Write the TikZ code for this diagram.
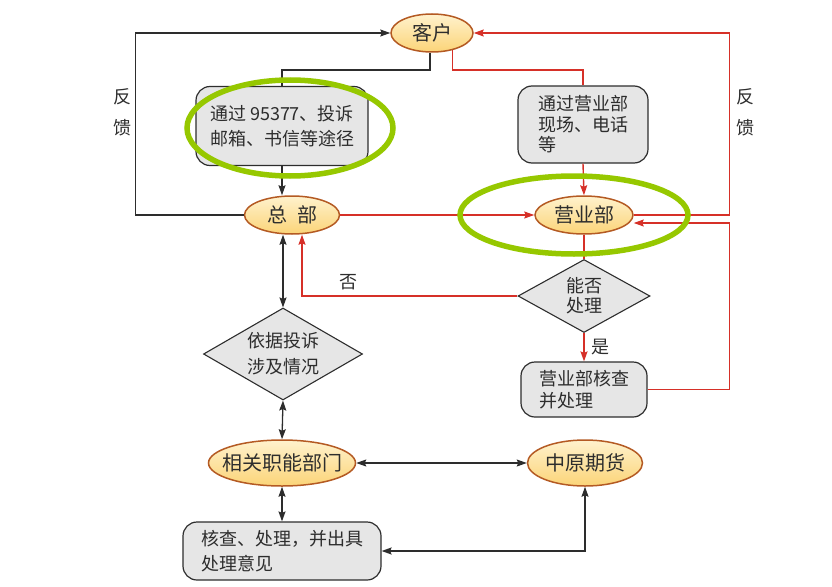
\documentclass[tikz,border=0pt]{standalone}
\usepackage{fontspec}
\setmainfont{Noto Sans CJK SC}
\usetikzlibrary{arrows.meta, shapes.geometric}
\definecolor{CR}{RGB}{214,48,40}
\definecolor{DG}{RGB}{45,45,45}
\definecolor{CO}{RGB}{180,90,35}
\definecolor{OL}{RGB}{255,242,205}
\definecolor{OM}{RGB}{247,172,52}
\definecolor{OB}{RGB}{251,212,120}
\definecolor{LGr}{RGB}{230,230,230}
\definecolor{HG}{RGB}{150,200,0}

\begin{document}
\begin{tikzpicture}[x=1pt, y=-1pt,
  ebox/.style={ellipse, draw=CO, line width=1.5pt, top color=OL, middle color=OM,
               bottom color=OB, minimum width=#1, minimum height=38pt,
               inner xsep=-10pt, inner ysep=0pt, text=DG,
               font=\fontsize{20}{24}\selectfont},
  gbox/.style={draw=DG, fill=LGr, line width=1.2pt, rounded corners=14pt,
               inner sep=0pt, text=DG, align=left},
  dbox/.style={diamond, draw=DG, fill=LGr, line width=1.1pt, aspect=1.7,
               inner sep=0pt, text=DG, align=center},
  lab/.style={text=DG, font=\fontsize{18}{31}\selectfont, align=center},
  ring/.style={draw=HG, line width=5.5pt},
  arr/.style={-{Stealth[length=10pt, width=7pt, inset=1.5pt]}, line width=1.3pt, draw=DG},
  darr/.style={{Stealth[length=10pt, width=7pt, inset=1.5pt]}-{Stealth[length=10pt, width=7pt, inset=1.5pt]},
               line width=1.3pt, draw=DG},
  rarr/.style={-{Stealth[length=10pt, width=7pt, inset=1.5pt]}, line width=1.4pt, draw=CR},
  kline/.style={line width=1.3pt, draw=DG},
  rline/.style={line width=1.4pt, draw=CR}
]
\useasboundingbox (0,0) rectangle (832,586);

% ellipses
\node[ebox=82pt] (kehu) at (432,33) {客户};
\node[ebox=95pt] (zongbu) at (292,215) {总\hspace{0.5em}部};
\node[ebox=98pt] (yyb) at (584,215) {营业部};
\node[ebox=147pt, minimum height=46pt] (xgbm) at (282,463) {相关职能部门};
\node[ebox=115pt, minimum height=46pt] (zyqh) at (585,463) {中原期货};

% boxes
\node[gbox, minimum width=172pt, minimum height=79pt, font=\fontsize{18}{25}\selectfont]
  (tousu) at (282,126) {通过 95377、投诉\\邮箱、书信等途径};
\node[gbox, minimum width=130pt, minimum height=77pt, font=\fontsize{18}{20.5}\selectfont]
  (xianchang) at (583,124.5) {通过营业部\\现场、电话\\等};
\node[gbox, minimum width=126pt, minimum height=55pt, font=\fontsize{18}{22}\selectfont]
  (yybhc) at (584,389.5) {营业部核查\\并处理};
\node[gbox, minimum width=198pt, minimum height=58pt, font=\fontsize{18}{25}\selectfont]
  (hecha) at (282,551) {核查、处理，并出具\\处理意见};

% diamonds
\node[dbox, minimum width=159pt, minimum height=92pt, font=\fontsize{18}{26}\selectfont]
  (yiju) at (283,354) {依据投诉\\涉及情况};
\node[dbox, minimum width=132pt, minimum height=73pt, font=\fontsize{18}{20}\selectfont]
  (nengfou) at (584,296) {能否\\处理};

% labels
\node[lab] (fkl) at (122,112) {反\\馈};
\node[lab] (fkr) at (745,112) {反\\馈};
\node[lab] (fou) at (348,282) {否};
\node[lab] (shi) at (600,347) {是};

% customer channels
\coordinate (split) at (432,70);
\draw[kline] ([xshift=-2pt]kehu.south) -- ([xshift=-2pt]kehu.south |- split) -| (tousu.north);
\draw[rline] (kehu.-40) -- (kehu.-40 |- split) -| (xianchang.north);
\draw[arr] (tousu.south) -- (zongbu.north -| tousu.south);
\draw[rarr] (xianchang.south) -- (yyb.north);

% feedback
\draw[arr] (zongbu.west) -- ++(-108,0) |- (kehu.west);
\draw[rarr] (yyb.east) -- ++(96,0) |- (kehu.east);
\draw[rarr] (yybhc.east) -- ++(82,0) |- ([yshift=-8pt]yyb.east);

% branch office
\draw[rarr] (zongbu.east) -- (yyb.west);
\draw[rline] (yyb.south) -- (nengfou.north);
\draw[rarr] (nengfou.west) -| ([xshift=10pt]zongbu.south);
\draw[rarr] (nengfou.south) -- (yybhc.north);

% head office
\draw[darr] (yiju.north) -- (yiju.north |- zongbu.south);
\draw[darr] (yiju.south) -- (xgbm.north);
\draw[darr] (xgbm.east) -- (zyqh.west);
\draw[darr] (xgbm.south) -- (hecha.north);
\draw[darr] (hecha.east) -| (zyqh.south);

% highlight rings
\draw[ring] (290,128) ellipse [x radius=103pt, y radius=48pt];
\draw[ring] (574,215) ellipse [x radius=114pt, y radius=39pt];
\end{tikzpicture}
\end{document}
